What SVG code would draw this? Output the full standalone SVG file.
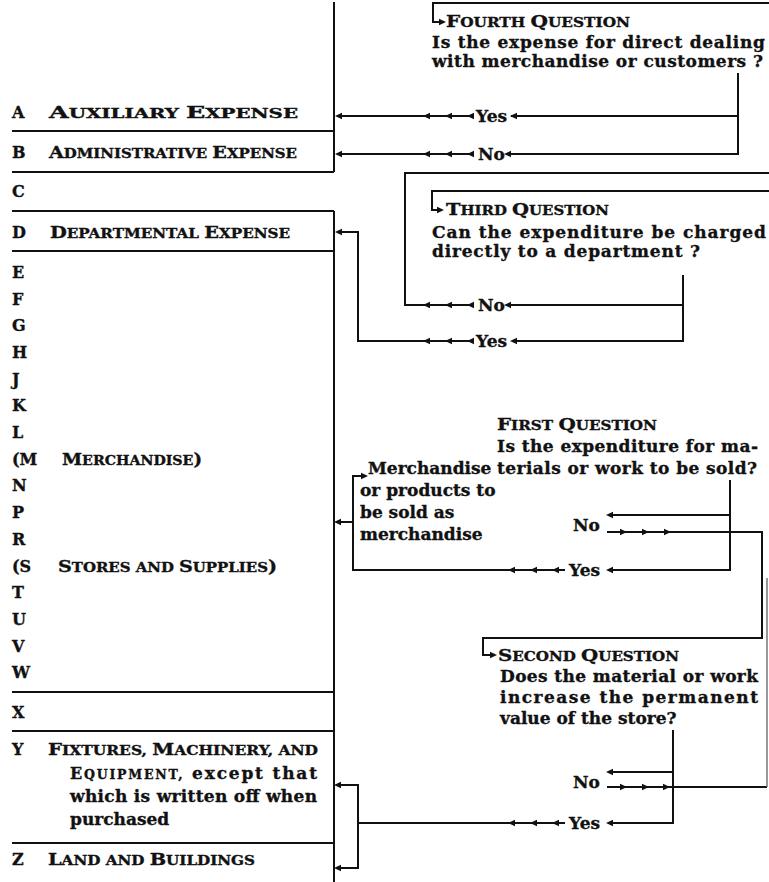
<svg xmlns="http://www.w3.org/2000/svg" xmlns:xlink="http://www.w3.org/1999/xlink" width="769" height="882" viewBox="0 0 769 882">
<style>
.t{font-family:"DejaVu Serif","Liberation Serif",serif;font-weight:bold;font-size:17px;fill:#111;stroke:#111;stroke-width:0.35}
.lt{font-size:16px}
.sm{font-size:12.5px}
.cp{font-size:16px}
.qs{font-size:13px}
.qc{font-size:17px}
.ln{stroke:#111;stroke-width:2;fill:none}
.fa{stroke:#777;stroke-width:1.5;fill:none}
</style>
<defs>
<path id="aL" d="M0,0 L7,-3.2 L7,3.2 Z" fill="#111"/>
<path id="aR" d="M0,0 L-7,-3.2 L-7,3.2 Z" fill="#111"/>
</defs>
<rect width="769" height="882" fill="#fff"/>

<g id="left-column" class="ln">
<path d="M334,2 V172 M12,131 H334 M12,172 H334 M12,211 H334 M334,211 V882 M12,251 H334 M12,692 H334 M12,731 H334 M12,843 H334"/>
</g>

<g id="node-A" class="t"><text class="lt" x="12" y="118">A</text><text x="49" y="118" textLength="249" lengthAdjust="spacingAndGlyphs"><tspan class="cp">A</tspan><tspan class="sm">UXILIARY </tspan><tspan class="cp">E</tspan><tspan class="sm">XPENSE</tspan></text></g>
<g id="node-B" class="t"><text class="lt" x="12" y="158">B</text><text x="49" y="158" textLength="248" lengthAdjust="spacingAndGlyphs"><tspan class="cp">A</tspan><tspan class="sm">DMINISTRATIVE </tspan><tspan class="cp">E</tspan><tspan class="sm">XPENSE</tspan></text></g>
<g id="node-C" class="t"><text class="lt" x="12" y="197">C</text></g>
<g id="node-D" class="t"><text class="lt" x="12" y="238">D</text><text x="50" y="238" textLength="240" lengthAdjust="spacingAndGlyphs"><tspan class="cp">D</tspan><tspan class="sm">EPARTMENTAL </tspan><tspan class="cp">E</tspan><tspan class="sm">XPENSE</tspan></text></g>
<g id="node-E" class="t"><text class="lt" x="12" y="278">E</text></g>
<g id="node-F" class="t"><text class="lt" x="12" y="305">F</text></g>
<g id="node-G" class="t"><text class="lt" x="12" y="331">G</text></g>
<g id="node-H" class="t"><text class="lt" x="12" y="358">H</text></g>
<g id="node-J" class="t"><text class="lt" x="12" y="385">J</text></g>
<g id="node-K" class="t"><text class="lt" x="12" y="411">K</text></g>
<g id="node-L" class="t"><text class="lt" x="12" y="438">L</text></g>
<g id="node-M" class="t"><text class="lt" x="12" y="465">(M</text><text x="62" y="465" textLength="140" lengthAdjust="spacingAndGlyphs"><tspan class="cp">M</tspan><tspan class="sm">ERCHANDISE</tspan><tspan class="cp">)</tspan></text></g>
<g id="node-N" class="t"><text class="lt" x="12" y="491">N</text></g>
<g id="node-P" class="t"><text class="lt" x="12" y="518">P</text></g>
<g id="node-R" class="t"><text class="lt" x="12" y="545">R</text></g>
<g id="node-S" class="t"><text class="lt" x="12" y="572">(S</text><text x="58" y="572" textLength="219" lengthAdjust="spacingAndGlyphs"><tspan class="cp">S</tspan><tspan class="sm">TORES AND </tspan><tspan class="cp">S</tspan><tspan class="sm">UPPLIES</tspan><tspan class="cp">)</tspan></text></g>
<g id="node-T" class="t"><text class="lt" x="12" y="598">T</text></g>
<g id="node-U" class="t"><text class="lt" x="12" y="625">U</text></g>
<g id="node-V" class="t"><text class="lt" x="12" y="652">V</text></g>
<g id="node-W" class="t"><text class="lt" x="12" y="678">W</text></g>
<g id="node-X" class="t"><text class="lt" x="12" y="718">X</text></g>
<g id="node-Y" class="t"><text class="lt" x="12" y="755">Y</text>
<text x="48" y="755" textLength="270" lengthAdjust="spacingAndGlyphs"><tspan class="cp">F</tspan><tspan class="sm">IXTURES, </tspan><tspan class="cp">M</tspan><tspan class="sm">ACHINERY, AND</tspan></text>
<text x="70" y="779" textLength="247"><tspan class="cp">E</tspan><tspan class="sm">QUIPMENT,</tspan> except that</text>
<text x="70" y="802" textLength="247">which is written off when</text>
<text x="70" y="825">purchased</text></g>
<g id="node-Z" class="t"><text class="lt" x="12" y="865">Z</text><text x="48" y="865" textLength="207" lengthAdjust="spacingAndGlyphs"><tspan class="cp">L</tspan><tspan class="sm">AND AND </tspan><tspan class="cp">B</tspan><tspan class="sm">UILDINGS</tspan></text></g>

<g id="q4" class="t">
<text x="446" y="27" textLength="184" lengthAdjust="spacingAndGlyphs"><tspan class="qc">F</tspan><tspan class="qs">OURTH </tspan><tspan class="qc">Q</tspan><tspan class="qs">UESTION</tspan></text>
<text x="432" y="48" textLength="333">Is the expense for direct dealing</text>
<text x="432" y="67" textLength="331">with merchandise or customers ?</text>
</g>
<g id="q3" class="t">
<text x="446" y="215" textLength="163" lengthAdjust="spacingAndGlyphs"><tspan class="qc">T</tspan><tspan class="qs">HIRD </tspan><tspan class="qc">Q</tspan><tspan class="qs">UESTION</tspan></text>
<text x="432" y="238" textLength="334">Can the expenditure be charged</text>
<text x="432" y="257" textLength="268">directly to a department ?</text>
</g>
<g id="q1" class="t">
<text x="497" y="430" textLength="160" lengthAdjust="spacingAndGlyphs"><tspan class="qc">F</tspan><tspan class="qs">IRST </tspan><tspan class="qc">Q</tspan><tspan class="qs">UESTION</tspan></text>
<text x="497" y="452" textLength="261">Is the expenditure for ma-</text>
<text x="497" y="474" textLength="260">terials or work to be sold?</text>
</g>
<g id="merchandise" class="t">
<text x="368" y="474">Merchandise</text>
<text x="360" y="496">or products to</text>
<text x="360" y="518">be sold as</text>
<text x="360" y="540">merchandise</text>
</g>
<g id="q2" class="t">
<text x="498" y="661" textLength="181" lengthAdjust="spacingAndGlyphs"><tspan class="qc">S</tspan><tspan class="qs">ECOND </tspan><tspan class="qc">Q</tspan><tspan class="qs">UESTION</tspan></text>
<text x="500" y="682" textLength="258">Does the material or work</text>
<text x="500" y="703" textLength="258">increase the permanent</text>
<text x="500" y="724">value of the store?</text>
</g>

<g id="connectors">
<g class="ln">
<path d="M769,3 H433 V22 H439"/>
<path d="M337,116 H472 M511,116 H738"/>
<path d="M337,154 H474 M506,154 H738 V73"/>
<path d="M769,173 H405 V305 H473 M506,305 H683 M683,275 V341 H512 M472,341 H358 V232 H340"/>
<path d="M769,191 H432 V210 H438"/>
<path d="M730,480 V570 H612 M565,570 H353 V476 H361 M353,522 H340"/>
<path d="M730,515 H612"/>
<path d="M607,532 H762 V638 H483 V655 H490"/>
<path d="M673,730 V823 H612 M565,823 H358 V785 H340 M358,823 V868 H340"/>
<path d="M673,772 H612"/>
<path d="M607,787 H767"/>
</g>
<path class="fa" d="M767,787 V578"/>
<g>
<use href="#aR" x="446" y="22"/>
<use href="#aL" x="335" y="116"/><use href="#aL" x="423" y="116"/><use href="#aL" x="445" y="116"/><use href="#aL" x="467" y="116"/><use href="#aL" x="510" y="116"/>
<use href="#aL" x="335" y="154"/><use href="#aL" x="423" y="154"/><use href="#aL" x="445" y="154"/><use href="#aL" x="467" y="154"/><use href="#aL" x="504" y="154"/>
<use href="#aR" x="444" y="210"/>
<use href="#aL" x="335" y="232"/>
<use href="#aL" x="423" y="305"/><use href="#aL" x="445" y="305"/><use href="#aL" x="467" y="305"/><use href="#aL" x="504" y="305"/>
<use href="#aL" x="423" y="341"/><use href="#aL" x="445" y="341"/><use href="#aL" x="467" y="341"/><use href="#aL" x="510" y="341"/>
<use href="#aR" x="368" y="476"/>
<use href="#aL" x="334" y="522"/>
<use href="#aL" x="606" y="515"/>
<use href="#aR" x="627" y="532"/><use href="#aR" x="649" y="532"/><use href="#aR" x="671" y="532"/>
<use href="#aL" x="508" y="570"/><use href="#aL" x="530" y="570"/><use href="#aL" x="552" y="570"/><use href="#aL" x="606" y="570"/>
<use href="#aR" x="497" y="655"/>
<use href="#aL" x="606" y="772"/>
<use href="#aR" x="627" y="787"/><use href="#aR" x="649" y="787"/><use href="#aR" x="670" y="787"/>
<use href="#aL" x="508" y="823"/><use href="#aL" x="530" y="823"/><use href="#aL" x="552" y="823"/><use href="#aL" x="606" y="823"/>
<use href="#aL" x="334" y="785"/><use href="#aL" x="334" y="868"/>
</g>
</g>

<g id="labels" class="t">
<text x="476" y="122">Yes</text>
<text x="478" y="160">No</text>
<text x="478" y="311">No</text>
<text x="476" y="347">Yes</text>
<text x="573" y="531">No</text>
<text x="569" y="576">Yes</text>
<text x="573" y="788">No</text>
<text x="569" y="829">Yes</text>
</g>
</svg>
